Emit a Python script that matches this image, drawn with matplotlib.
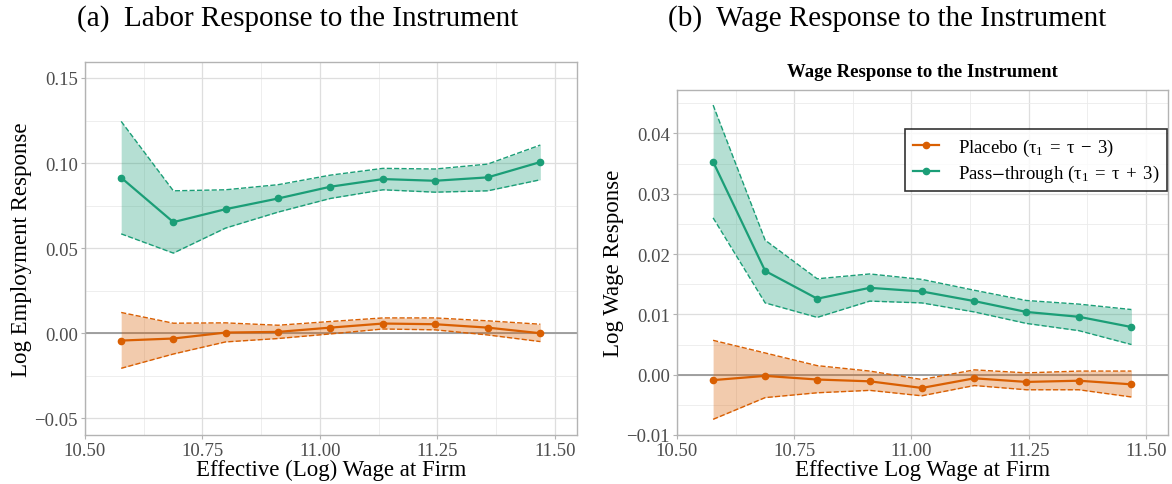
import matplotlib
matplotlib.use('Agg')
import matplotlib.pyplot as plt
import numpy as np

plt.rcParams['font.family'] = ['Liberation Serif', 'DejaVu Serif']
plt.rcParams['mathtext.fontset'] = 'stix'

# bin centres (effective log wage at firm)
wage_bins = [10.577, 10.688, 10.799, 10.911, 11.022, 11.134, 11.245, 11.357, 11.469]

# panel (a): employment response
emp_pass = [0.0914, 0.0653, 0.0729, 0.0792, 0.0861, 0.0906, 0.0896, 0.0916, 0.1006]
emp_pass_hi = [0.1245, 0.0837, 0.0843, 0.0873, 0.0929, 0.0969, 0.0965, 0.0994, 0.1106]
emp_pass_lo = [0.0584, 0.0471, 0.0618, 0.0712, 0.0792, 0.0843, 0.0829, 0.0837, 0.0902]
emp_plac = [-0.0043, -0.0031, 0.0004, 0.0008, 0.0033, 0.0057, 0.0053, 0.0033, 0.0000]
emp_plac_hi = [0.0122, 0.0059, 0.0061, 0.0047, 0.0069, 0.0090, 0.0090, 0.0073, 0.0053]
emp_plac_lo = [-0.0206, -0.0122, -0.0051, -0.0031, -0.0004, 0.0025, 0.0020, -0.0010, -0.0049]

# panel (b): wage response
wage_pass = [0.0353, 0.0172, 0.0126, 0.0144, 0.0138, 0.0122, 0.0104, 0.0096, 0.0079]
wage_pass_hi = [0.0447, 0.0223, 0.0159, 0.0167, 0.0158, 0.0140, 0.0123, 0.0117, 0.0108]
wage_pass_lo = [0.0260, 0.0119, 0.0095, 0.0122, 0.0119, 0.0104, 0.0085, 0.0073, 0.0050]
wage_plac = [-0.0009, -0.0002, -0.0008, -0.0011, -0.0022, -0.0006, -0.0012, -0.0010, -0.0016]
wage_plac_hi = [0.0057, 0.0036, 0.0015, 0.0006, -0.0008, 0.0008, 0.0003, 0.0006, 0.0006]
wage_plac_lo = [-0.0074, -0.0038, -0.0030, -0.0026, -0.0035, -0.0018, -0.0025, -0.0025, -0.0037]

GREEN = '#1b9e77'
ORANGE = '#d95f02'

W, H = 1172, 485
fig = plt.figure(figsize=(W / 100, H / 100), dpi=100)


def px_axes(left, top, right, bottom):
    return fig.add_axes([left / W, 1 - bottom / H, (right - left) / W, (bottom - top) / H])


def style(ax, xlim, ylim, yticks, yminor, xticks, xminor, ylabel, xlabel):
    ax.set_xlim(*xlim)
    ax.set_ylim(*ylim)
    ax.set_xticks(xticks)
    ax.set_xticklabels(['%.2f' % t for t in xticks])
    ax.set_xticks(xminor, minor=True)
    ax.set_yticks(yticks)
    ax.set_yticks(yminor, minor=True)
    ax.grid(True, which='major', color='#dedede', lw=0.9)
    ax.grid(True, which='minor', color='#ebebeb', lw=0.6)
    ax.set_axisbelow(True)
    for s in ax.spines.values():
        s.set_color('#b3b3b3')
        s.set_linewidth(1.0)
    ax.tick_params(which='both', length=3, color='#b3b3b3', labelsize=13.5, labelcolor='#4d4d4d', pad=2)
    ax.tick_params(which='minor', length=0)
    ax.axhline(0, color='#999999', lw=1.3, zorder=1)
    ax.set_ylabel(ylabel, fontsize=16.5, labelpad=2)
    ax.set_xlabel(xlabel, fontsize=16.5, labelpad=0)


def band(ax, x, y, lo, hi, color, label):
    ax.fill_between(x, lo, hi, color=color, alpha=0.32, lw=0, zorder=2)
    ax.plot(x, lo, ls='--', color=color, lw=1.0, zorder=3)
    ax.plot(x, hi, ls='--', color=color, lw=1.0, zorder=3)
    ax.plot(x, y, '-o', color=color, lw=1.6, ms=4.5, zorder=4, label=label)


# panel (a)
ax1 = px_axes(85, 63, 577, 436)
band(ax1, wage_bins, emp_plac, emp_plac_lo, emp_plac_hi, ORANGE, None)
band(ax1, wage_bins, emp_pass, emp_pass_lo, emp_pass_hi, GREEN, None)
style(ax1, (10.5, 11.547), (-0.0598, 0.1594),
      [-0.05, 0.0, 0.05, 0.10, 0.15], [-0.025, 0.025, 0.075, 0.125],
      [10.5, 10.75, 11.0, 11.25, 11.5], [10.625, 10.875, 11.125, 11.375],
      'Log Employment Response', 'Effective (Log) Wage at Firm')
ax1.set_yticklabels(['\u22120.05', '0.00', '0.05', '0.10', '0.15'])
fig.text(298 / W, 1 - 19 / H, '(a)  Labor Response to the Instrument', ha='center', va='center', fontsize=21)

# panel (b)
ax2 = px_axes(677, 91, 1168, 436)
band(ax2, wage_bins, wage_plac, wage_plac_lo, wage_plac_hi, ORANGE,
     r'Placebo ($\mathregular{\tau_1\;=\;\tau\;-\;3}$)')
band(ax2, wage_bins, wage_pass, wage_pass_lo, wage_pass_hi, GREEN,
     r'Pass$-$through ($\mathregular{\tau_1\;=\;\tau\;+\;3}$)')
style(ax2, (10.5, 11.547), (-0.01, 0.0472),
      [-0.01, 0.0, 0.01, 0.02, 0.03, 0.04], [-0.005, 0.005, 0.015, 0.025, 0.035, 0.045],
      [10.5, 10.75, 11.0, 11.25, 11.5], [10.625, 10.875, 11.125, 11.375],
      'Log Wage Response', 'Effective Log Wage at Firm')
ax2.set_yticklabels(['\u22120.01', '0.00', '0.01', '0.02', '0.03', '0.04'])
ax2.set_title('Wage Response to the Instrument', fontsize=13.5, fontweight='bold', pad=10)
leg = ax2.legend(loc='upper right', bbox_to_anchor=(0.997, 0.886), fontsize=13.5, frameon=True,
                 fancybox=False, edgecolor='black', handlelength=1.4, handletextpad=1.0,
                 borderpad=0.4, labelspacing=0.25, borderaxespad=0)
leg.get_frame().set_linewidth(1.2)
fig.text(887 / W, 1 - 19 / H, '(b)  Wage Response to the Instrument', ha='center', va='center', fontsize=21)

fig.savefig('out.png', dpi=100)
